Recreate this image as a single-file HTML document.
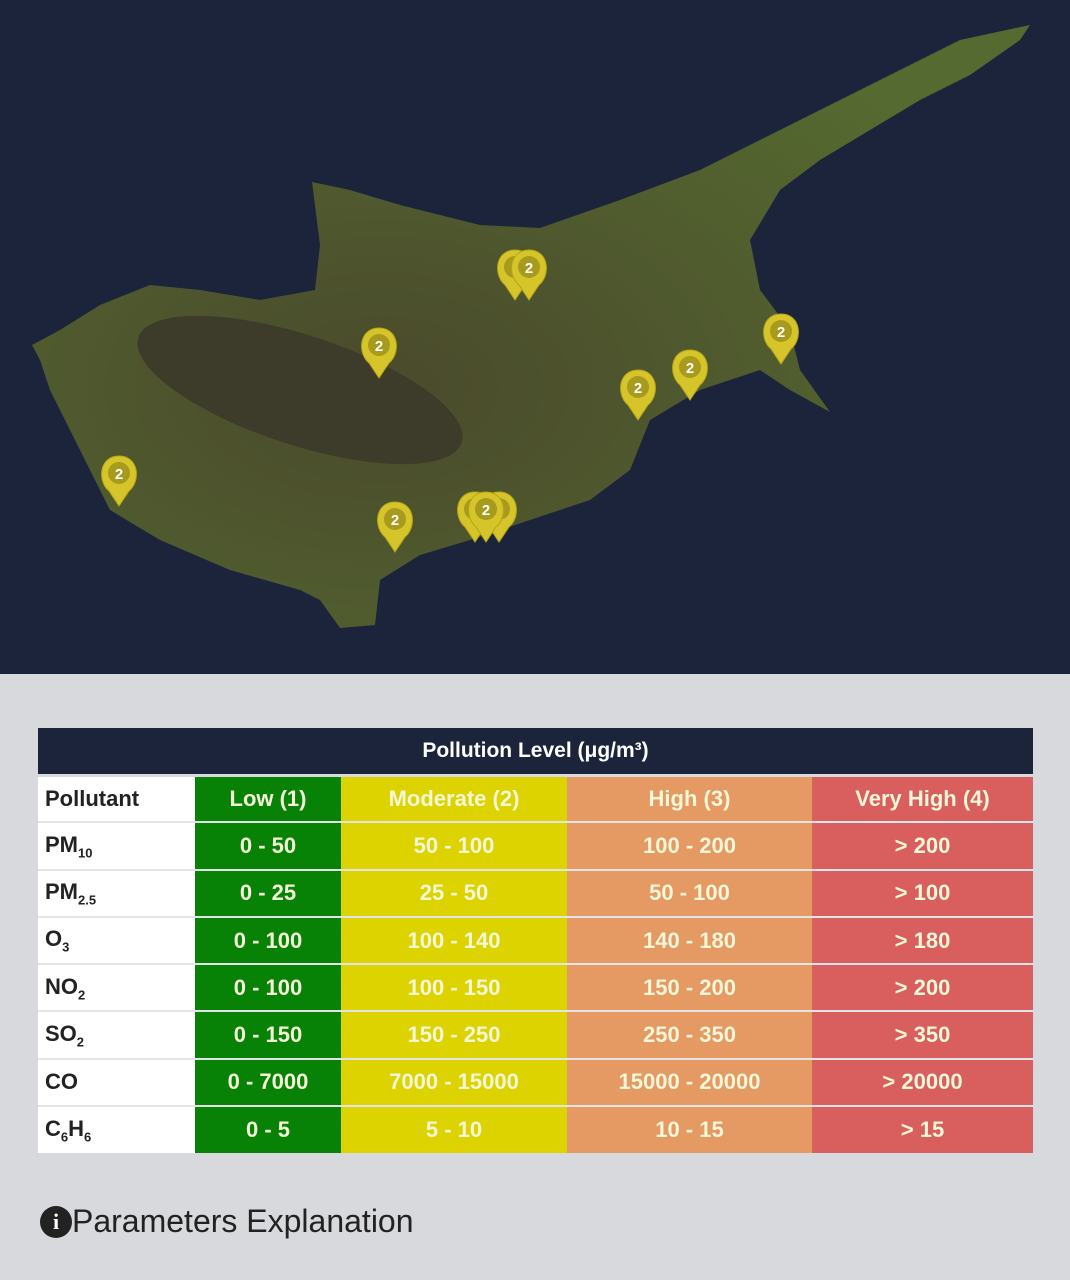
<!DOCTYPE html>
<html><head><meta charset="utf-8"><style>
*{margin:0;padding:0;box-sizing:border-box}
body{width:1070px;height:1280px;background:#d8d9dd;font-family:"Liberation Sans",Arial,sans-serif;position:relative;overflow:hidden}
#map{position:absolute;left:0;top:0;width:1070px;height:674px;background:#1b243b}
table{position:absolute;left:38px;top:728px;width:995px;border-collapse:collapse;table-layout:fixed}
th{background:#1b243b;color:#fff;height:47px;font-size:21px;font-weight:bold;border-bottom:3px solid #d8d9dd}
td{height:47.3px;font-size:22px;font-weight:bold;text-align:center;border-top:2px solid #e4e4e8;color:#f4f6d8}
td:first-child{background:#fff;color:#222;text-align:left;padding-left:7px}
sub{font-size:13px}
.l{background:#078207}.m{background:#dcd300}.h{background:#e49a62}.v{background:#d95e5e}
#pe{position:absolute;left:40px;top:1203px;font-size:32px;color:#222;display:flex;align-items:center}
#pe span{display:inline-block;width:32px;height:32px;border-radius:50%;background:#222;color:#fff;font-size:22px;font-weight:bold;text-align:center;line-height:32px;font-family:"Liberation Serif",serif}
</style></head><body>
<div id="map"><svg width="1070" height="674">
<defs><radialGradient id="g" cx="0.35" cy="0.6" r="0.7"><stop offset="0" stop-color="#4a4a2c"/><stop offset="1" stop-color="#556a30"/></radialGradient>
<g id="p"><path d="M0,0 c-20,0 -22,25 -10,35 l10,15 l10,-15 c12,-10 10,-35 -10,-35z" fill="#d6c52a" stroke="#b8a515"/><circle cx="0" cy="17" r="11" fill="#a79a1c"/></g>
</defs>
<polygon fill="url(#g)" points="32,345 60,330 100,305 150,285 200,290 260,300 315,290 320,245 312,182 350,190 400,205 480,225 540,228 620,200 700,170 780,130 850,95 900,70 960,40 1030,25 1020,40 970,75 920,100 870,130 820,160 780,190 750,240 760,290 790,330 800,370 830,412 790,390 760,370 700,390 650,420 630,470 590,500 530,520 470,540 420,555 380,580 375,625 340,628 320,600 300,590 230,570 160,540 110,510 80,450 50,390 40,360"/>
<ellipse cx="300" cy="390" rx="170" ry="55" fill="#3d3b2a" transform="rotate(18 300 390)"/>
<g font-family="Liberation Sans" font-weight="bold" font-size="15" fill="#fff" text-anchor="middle">
<use href="#p" x="515" y="250"/><use href="#p" x="529" y="250"/><text x="529" y="273">2</text>
<use href="#p" x="379" y="328"/><text x="379" y="351">2</text>
<use href="#p" x="781" y="314"/><text x="781" y="337">2</text>
<use href="#p" x="690" y="350"/><text x="690" y="373">2</text>
<use href="#p" x="638" y="370"/><text x="638" y="393">2</text>
<use href="#p" x="119" y="456"/><text x="119" y="479">2</text>
<use href="#p" x="395" y="502"/><text x="395" y="525">2</text>
<use href="#p" x="475" y="492"/><use href="#p" x="499" y="492"/><use href="#p" x="486" y="492"/><text x="486" y="515">2</text>
</g></svg></div>
<table>
<colgroup><col style="width:157px"><col style="width:146px"><col style="width:226px"><col style="width:245px"><col></colgroup>
<tr><th colspan="5">Pollution Level (μg/m³)</th></tr>
<tr><td>Pollutant</td><td class="l">Low (1)</td><td class="m">Moderate (2)</td><td class="h">High (3)</td><td class="v">Very High (4)</td></tr>
<tr><td>PM<sub>10</sub></td><td class="l">0 - 50</td><td class="m">50 - 100</td><td class="h">100 - 200</td><td class="v">&gt; 200</td></tr>
<tr><td>PM<sub>2.5</sub></td><td class="l">0 - 25</td><td class="m">25 - 50</td><td class="h">50 - 100</td><td class="v">&gt; 100</td></tr>
<tr><td>O<sub>3</sub></td><td class="l">0 - 100</td><td class="m">100 - 140</td><td class="h">140 - 180</td><td class="v">&gt; 180</td></tr>
<tr><td>NO<sub>2</sub></td><td class="l">0 - 100</td><td class="m">100 - 150</td><td class="h">150 - 200</td><td class="v">&gt; 200</td></tr>
<tr><td>SO<sub>2</sub></td><td class="l">0 - 150</td><td class="m">150 - 250</td><td class="h">250 - 350</td><td class="v">&gt; 350</td></tr>
<tr><td>CO</td><td class="l">0 - 7000</td><td class="m">7000 - 15000</td><td class="h">15000 - 20000</td><td class="v">&gt; 20000</td></tr>
<tr><td>C<sub>6</sub>H<sub>6</sub></td><td class="l">0 - 5</td><td class="m">5 - 10</td><td class="h">10 - 15</td><td class="v">&gt; 15</td></tr>
</table>
<div id="pe"><span>i</span>Parameters Explanation</div>
</body></html>
